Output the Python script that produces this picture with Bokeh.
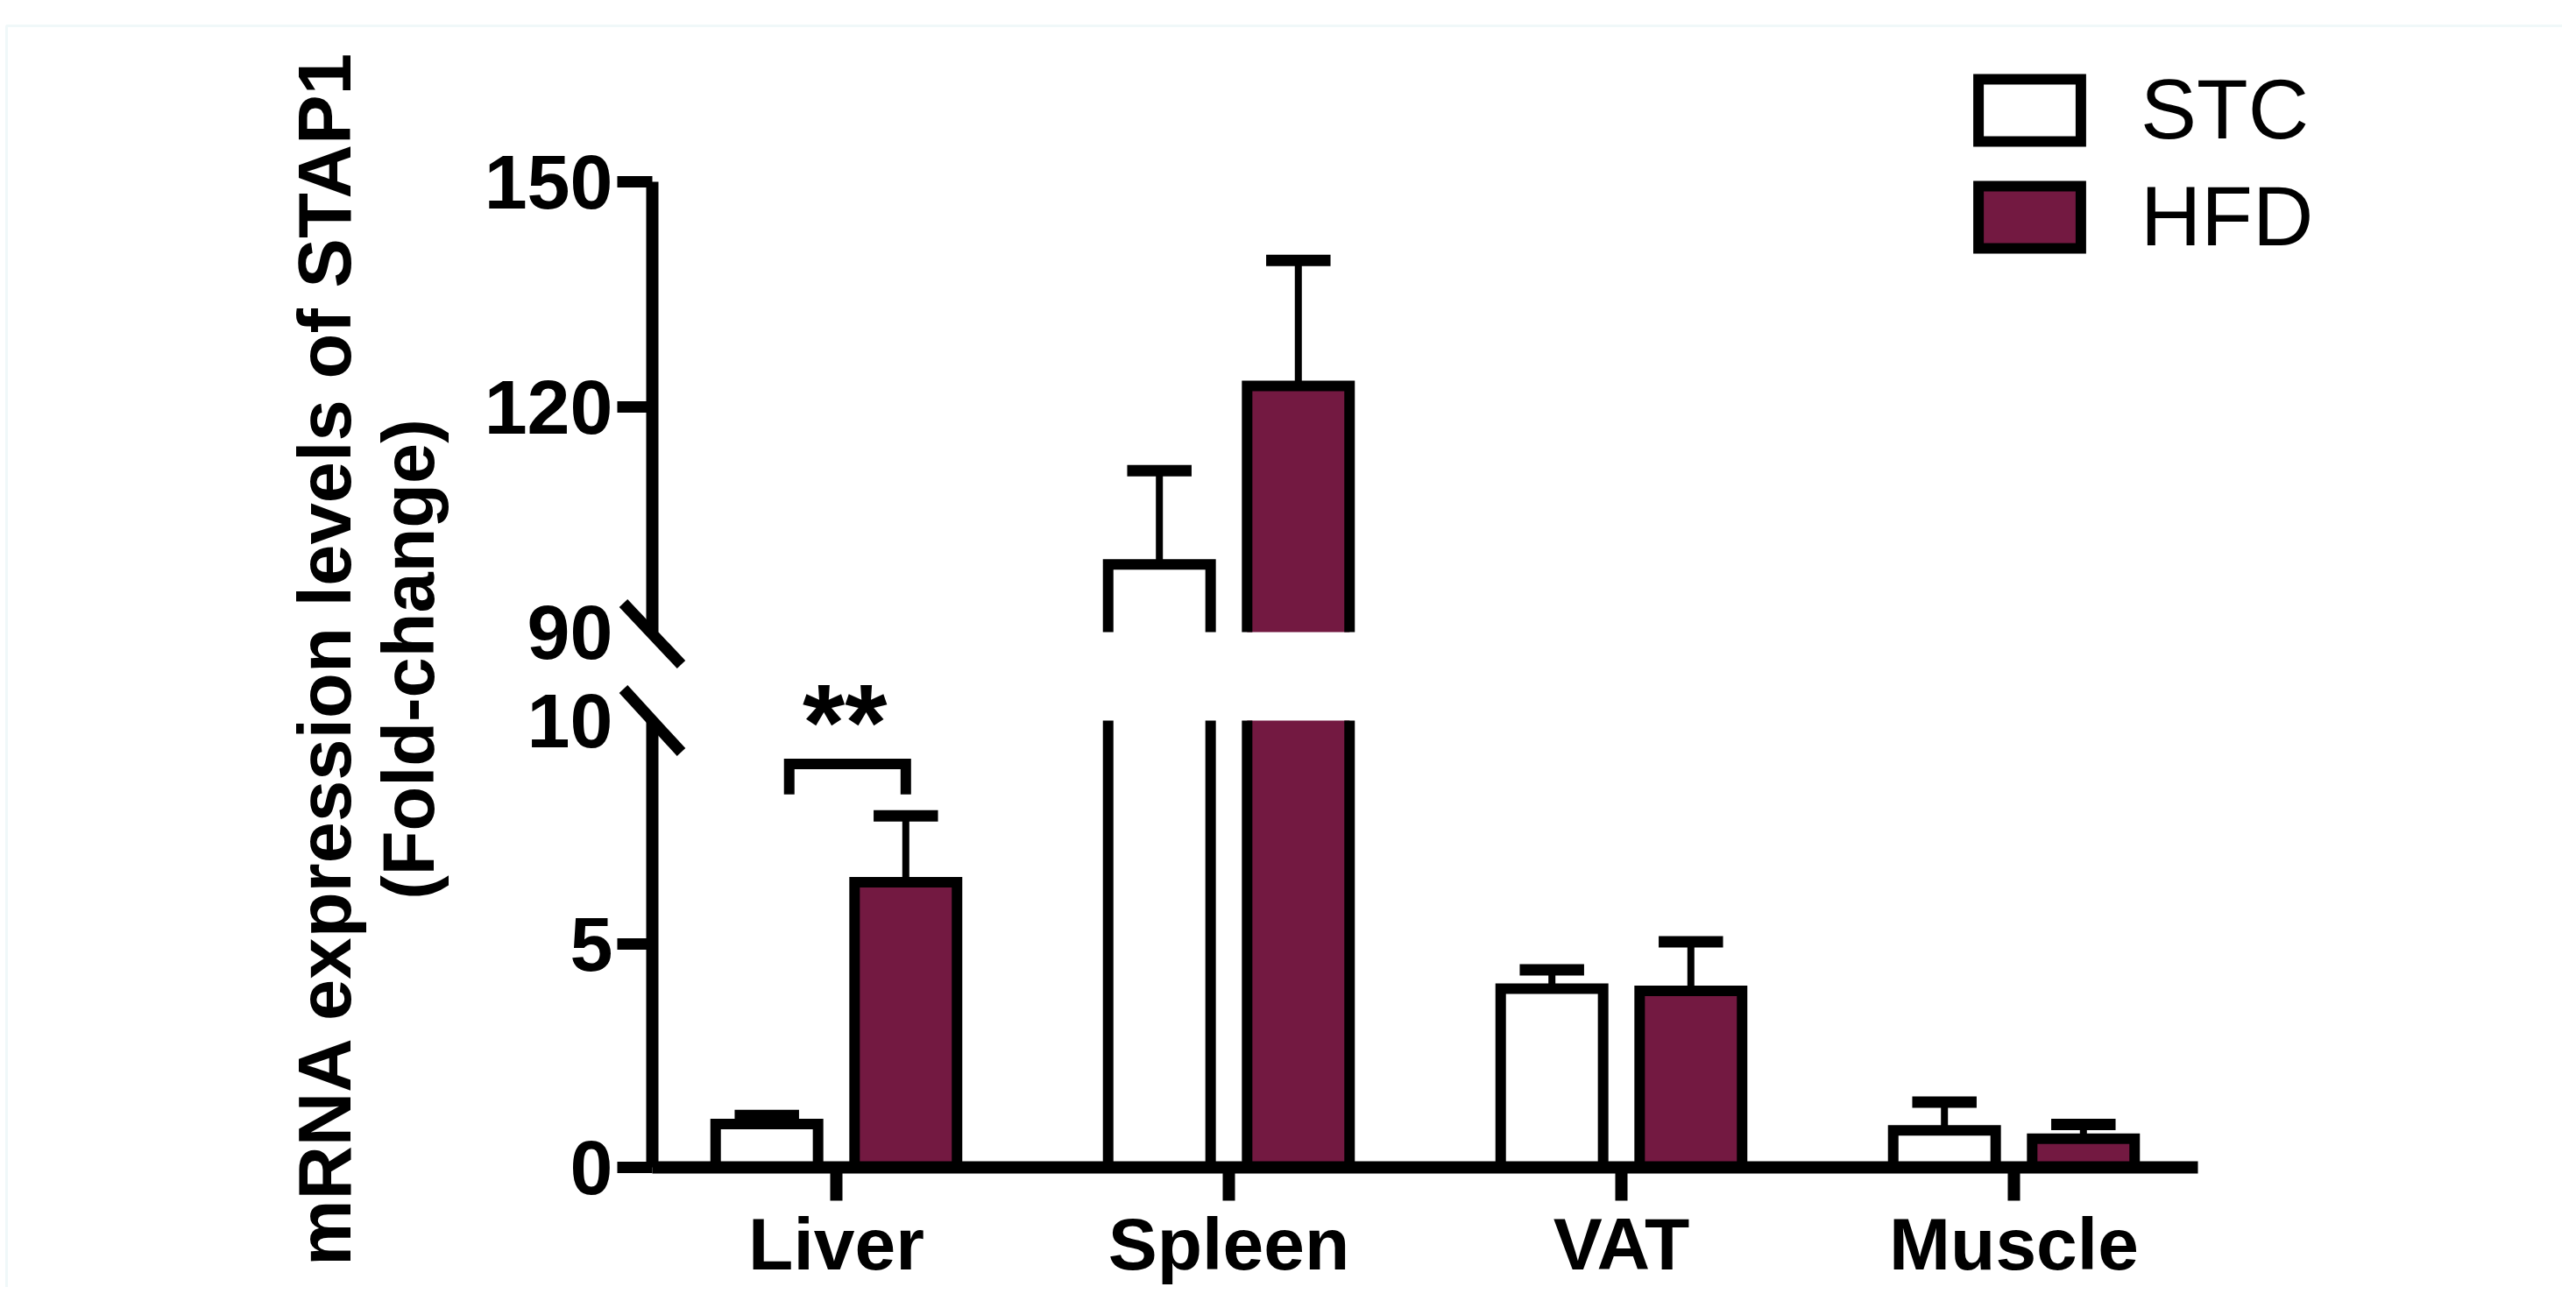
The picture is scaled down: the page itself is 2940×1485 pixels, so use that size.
import math
from bokeh.plotting import figure
from bokeh.models import (ColumnDataSource, Range1d, LinearAxis, FixedTicker,
                          Legend, LegendItem, BoxAnnotation)
from bokeh.core.properties import value
from bokeh.embed import file_html
from bokeh.resources import INLINE

# ---------------- data ----------------
categories = ["Liver", "Spleen", "VAT", "Muscle"]
series = ["STC", "HFD"]
stc_mean = [0.97, 99.0, 4.0, 0.83]
stc_sem = [0.19, 12.5, 0.42, 0.63]
hfd_mean = [6.38, 122.8, 3.95, 0.64]
hfd_sem = [1.49, 16.7, 1.10, 0.32]
upper_ticks = [90, 120, 150]     # upper segment of the broken y axis
lower_ticks = [0, 5, 10]         # lower segment of the broken y axis
sig_category = "Liver"
sig_text = "**"
sig_bracket_y = 9.03
sig_leg_y = 8.35
sig_star_y = 9.95
y_title_1 = "mRNA expression levels of STAP1"
y_title_2 = "(Fold-change)"

# ---------------- layout / style ----------------
W, H = 2924, 1469                       # canvas (page minus 8px margin)
CAT0_PX, PX_PER_CAT = 954, 448          # first category centre, px per category
AXIS_PX, XEND_PX = 744, 2508            # y-axis position, x-axis right end
ZERO_PY, PX_PER_LOW = 1332, 51.0        # lower segment: y of 0, px per unit
BREAK_UP_PY, PX_PER_UP = 721, 8.57      # upper segment: y of 90, px per unit
FONT_NAME = "Liberation Sans"
FONT = value(FONT_NAME)
HFD_COLOR = "#731941"
BORDER = "#cde9ec"
OFF = 0.177
BAR_W = 0.261
CAP_HALF = 0.082
LOW_MAX = lower_ticks[-1]
UP_MIN = upper_ticks[0]


def cx(px):
    return (px - CAT0_PX) / PX_PER_CAT


def cy(py):
    return (ZERO_PY - py) / PX_PER_LOW


def cyu(py):
    return UP_MIN + (BREAK_UP_PY - py) / PX_PER_UP


Y_AXIS_X = cx(AXIS_PX)

p = figure(width=W, height=H, x_range=Range1d(cx(0), cx(W)), y_range=Range1d(cy(H), cy(0)),
           x_axis_location=None, y_axis_location=None, toolbar_location=None,
           output_backend="svg", min_border=0)
p.extra_y_ranges = {"upper": Range1d(cyu(H), cyu(0))}
p.outline_line_color = None
p.background_fill_color = "white"
p.border_fill_color = "white"
for g in p.grid:
    g.visible = False

# frame line of the source figure
p.add_layout(BoxAnnotation(left=cx(7), right=cx(W + 100), top=cy(29), bottom=cy(H + 100),
                           fill_color=None, fill_alpha=0, line_color=BORDER, line_width=3))

# ---------------- bars ----------------
idx = list(range(len(categories)))
legend_renderers = []
for name, means, sems, color, off in [("STC", stc_mean, stc_sem, "white", -OFF),
                                      ("HFD", hfd_mean, hfd_sem, HFD_COLOR, OFF)]:
    xs = [i + off for i in idx]
    his = [m + s for m, s in zip(means, sems)]
    full = [i for i in idx if means[i] <= LOW_MAX]
    broken = [i for i in idx if means[i] > LOW_MAX]

    # bars that fit in the lower segment
    sf = ColumnDataSource(dict(
        x=[xs[i] for i in full], top=[means[i] for i in full], hi=[his[i] for i in full],
        cl=[xs[i] - CAP_HALF for i in full], cr=[xs[i] + CAP_HALF for i in full]))
    r = p.vbar(x="x", top="top", bottom=0, width=BAR_W, source=sf, fill_color=color,
               line_color="black", line_width=12, line_join="miter")
    legend_renderers.append(r)
    p.segment(x0="x", y0="top", x1="x", y1="hi", source=sf, line_color="black", line_width=8)
    p.segment(x0="cl", y0="hi", x1="cr", y1="hi", source=sf, line_color="black", line_width=13)

    if broken:
        # lower part of broken bars: open at the top
        sb = ColumnDataSource(dict(
            x=[xs[i] for i in broken],
            xl=[xs[i] - BAR_W / 2 for i in broken], xr=[xs[i] + BAR_W / 2 for i in broken],
            m=[means[i] for i in broken], hi=[his[i] for i in broken],
            cl=[xs[i] - CAP_HALF for i in broken], cr=[xs[i] + CAP_HALF for i in broken]))
        p.vbar(x="x", top=LOW_MAX, bottom=0, width=BAR_W, source=sb, fill_color=color,
               line_color=None)
        p.segment(x0="xl", y0=0, x1="xl", y1=LOW_MAX, source=sb, line_color="black", line_width=12)
        p.segment(x0="xr", y0=0, x1="xr", y1=LOW_MAX, source=sb, line_color="black", line_width=12)
        # upper part: open at the bottom
        p.vbar(x="x", top="m", bottom=UP_MIN, width=BAR_W, source=sb, fill_color=color,
               line_color=None, y_range_name="upper")
        p.multi_line(xs=[[xs[i] - BAR_W / 2, xs[i] - BAR_W / 2, xs[i] + BAR_W / 2, xs[i] + BAR_W / 2]
                         for i in broken],
                     ys=[[UP_MIN, means[i], means[i], UP_MIN] for i in broken],
                     line_color="black", line_width=12, line_join="miter",
                     y_range_name="upper")
        p.segment(x0="x", y0="m", x1="x", y1="hi", source=sb, line_color="black",
                  line_width=8, y_range_name="upper")
        p.segment(x0="cl", y0="hi", x1="cr", y1="hi", source=sb, line_color="black",
                  line_width=13, y_range_name="upper")

# ---------------- significance ----------------
si = categories.index(sig_category)
p.multi_line(xs=[[si - 0.12, si - 0.12, si + OFF, si + OFF]],
             ys=[[sig_leg_y, sig_bracket_y, sig_bracket_y, sig_leg_y]],
             line_color="black", line_width=12, line_join="miter")
p.text(x=[si + 0.022], y=[sig_star_y], text=[sig_text], text_align="center",
       text_baseline="alphabetic", text_font=FONT, text_font_style="bold",
       text_font_size="124px", text_color="black")

# ---------------- axes ----------------
def style_y(ax):
    ax.axis_line_width = 14
    ax.axis_line_color = "black"
    ax.major_tick_line_width = 13
    ax.major_tick_out = 40
    ax.major_tick_in = 0
    ax.minor_tick_out = 0
    ax.minor_tick_in = 0
    ax.major_label_standoff = 5
    ax.major_label_text_font = FONT_NAME
    ax.major_label_text_font_style = "bold"
    ax.major_label_text_font_size = "88px"
    ax.major_label_text_color = "black"


y_low = LinearAxis(fixed_location=Y_AXIS_X, bounds=(lower_ticks[0], LOW_MAX),
                   ticker=FixedTicker(ticks=lower_ticks[:-1]))
style_y(y_low)
p.add_layout(y_low, "left")
y_up = LinearAxis(y_range_name="upper", fixed_location=Y_AXIS_X,
                  bounds=(UP_MIN, upper_ticks[-1]), ticker=FixedTicker(ticks=upper_ticks[1:]))
style_y(y_up)
p.add_layout(y_up, "left")

x_ax = LinearAxis(fixed_location=0, bounds=(Y_AXIS_X, cx(XEND_PX)),
                  ticker=FixedTicker(ticks=idx),
                  major_label_overrides={i: c for i, c in zip(idx, categories)})
x_ax.axis_line_width = 14
x_ax.axis_line_color = "black"
x_ax.major_tick_line_width = 14
x_ax.major_tick_out = 38
x_ax.major_tick_in = 0
x_ax.minor_tick_out = 0
x_ax.minor_tick_in = 0
x_ax.major_label_standoff = 2
x_ax.major_label_text_font = FONT_NAME
x_ax.major_label_text_font_style = "bold"
x_ax.major_label_text_font_size = "84px"
x_ax.major_label_text_color = "black"
p.add_layout(x_ax, "below")

# labels at the axis break (no tick mark there) and the break slashes
p.text(x=[Y_AXIS_X], y=[UP_MIN], text=[str(UP_MIN)], x_offset=-45, text_align="right",
       text_baseline="middle", text_font=FONT, text_font_style="bold",
       text_font_size="88px", text_color="black", y_range_name="upper")
p.text(x=[Y_AXIS_X], y=[LOW_MAX], text=[str(LOW_MAX)], x_offset=-45, text_align="right",
       text_baseline="middle", text_font=FONT, text_font_style="bold",
       text_font_size="88px", text_color="black")
DX = 33 / PX_PER_CAT
p.segment(x0=[Y_AXIS_X - DX], y0=[UP_MIN + 33 / PX_PER_UP], x1=[Y_AXIS_X + DX],
          y1=[UP_MIN - 37 / PX_PER_UP], line_color="black", line_width=13,
          y_range_name="upper")
p.segment(x0=[Y_AXIS_X - DX], y0=[LOW_MAX + 36 / PX_PER_LOW], x1=[Y_AXIS_X + DX],
          y1=[LOW_MAX - 36 / PX_PER_LOW], line_color="black", line_width=13)

# ---------------- y title ----------------
p.text(x=[cx(370)], y=[cy(751)], text=[y_title_1], angle=math.pi / 2, text_align="center",
       text_baseline="middle", text_font=FONT, text_font_style="bold",
       text_font_size="85px", text_color="black")
p.text(x=[cx(466)], y=[cy(752)], text=[y_title_2], angle=math.pi / 2, text_align="center",
       text_baseline="middle", text_font=FONT, text_font_style="bold",
       text_font_size="83px", text_color="black")

# ---------------- legend ----------------
legend = Legend(items=[LegendItem(label=series[0], renderers=[legend_renderers[0]]),
                       LegendItem(label=series[1], renderers=[legend_renderers[1]])],
                location=(2243, 1167), glyph_width=146, glyph_height=89,
                label_standoff=54, spacing=12, padding=0, margin=0,
                label_text_font=FONT_NAME, label_text_font_size="96px",
                label_text_color="black", border_line_color=None,
                background_fill_alpha=0)
p.add_layout(legend)

open("out.html", "w").write(file_html(p, INLINE))
